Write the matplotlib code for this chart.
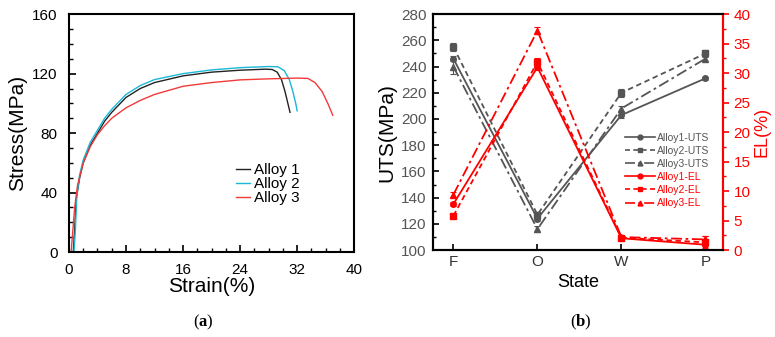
import matplotlib
matplotlib.use("Agg")
import matplotlib.pyplot as plt
from matplotlib.ticker import MultipleLocator
from matplotlib.lines import Line2D

plt.rcParams['font.family'] = ['Liberation Sans', 'DejaVu Sans']
plt.rcParams['mathtext.fontset'] = 'custom'
plt.rcParams['mathtext.rm'] = 'Liberation Serif'
plt.rcParams['mathtext.bf'] = 'Liberation Serif:bold'

# ---------------- Panel (a) data: stress-strain curves ----------------
strain_a1 = [0.6, 0.8, 1.0, 1.5, 2, 3, 4, 5, 6, 8, 10, 12, 16, 20, 24, 27.5, 28.5, 29.2, 29.8, 30.3, 30.7, 31.0]
stress_a1 = [0, 15, 35, 50, 60, 72, 80, 88, 94, 104, 110, 114, 118.5, 121, 122.3, 123, 122.8, 121, 116, 108, 100, 94]
strain_a2 = [0.7, 0.9, 1.1, 1.5, 2, 3, 4, 5, 6, 8, 10, 12, 16, 20, 24, 28, 29.3, 30.2, 30.9, 31.4, 31.8, 32.0]
stress_a2 = [0, 15, 38, 52, 62, 74, 82, 90, 96, 106, 112, 116, 120, 122.5, 124, 124.8, 124.6, 122, 116, 108, 100, 95]
strain_a3 = [0.3, 0.5, 0.8, 1.2, 2, 3, 4, 5, 6, 8, 10, 12, 16, 20, 24, 28, 32, 33.5, 34.5, 35.5, 36.3, 37.0]
stress_a3 = [0, 12, 30, 45, 60, 71, 79, 85, 90, 97, 102, 106, 111.5, 114, 115.8, 116.5, 117, 116.8, 114, 108, 100, 92]
labels_a = ['Alloy 1', 'Alloy 2', 'Alloy 3']

# ---------------- Panel (b) data ----------------
states = ['F', 'O', 'W', 'P']
uts_1 = [246, 124, 203, 231]
uts_2 = [255, 127, 220, 250]
uts_3 = [240, 116, 208, 246]
uts_err_1 = [2, 2, 2, 1]
uts_err_2 = [3, 2, 3, 3]
uts_err_3 = [6, 2, 2, 2]
el_1 = [7.8, 31.0, 2.0, 0.9]
el_2 = [5.8, 31.9, 2.1, 1.3]
el_3 = [9.4, 37.2, 2.2, 1.8]
el_err_1 = [0.4, 0.4, 0.3, 0.8]
el_err_2 = [0.3, 0.6, 0.3, 1.0]
el_err_3 = [0.4, 0.6, 0.3, 0.6]
labels_uts = ['Alloy1-UTS', 'Alloy2-UTS', 'Alloy3-UTS']
labels_el = ['Alloy1-EL', 'Alloy2-EL', 'Alloy3-EL']

fig = plt.figure(figsize=(7.75, 3.37), dpi=100)

# ---------------- Panel (a) ----------------
ax1 = fig.add_axes([0.089, 0.252, 0.368, 0.706])
cols_a = ['#222222', '#1ab8d8', '#f03a3a']
for s, t, c, l in zip([strain_a1, strain_a2, strain_a3], [stress_a1, stress_a2, stress_a3], cols_a, labels_a):
    ax1.plot(s, t, color=c, lw=1.0, label=l)
ax1.set_xlim(0, 40)
ax1.set_ylim(0, 160)
ax1.xaxis.set_major_locator(MultipleLocator(8))
ax1.xaxis.set_minor_locator(MultipleLocator(2))
ax1.yaxis.set_major_locator(MultipleLocator(40))
ax1.yaxis.set_minor_locator(MultipleLocator(10))
ax1.tick_params(which='both', direction='in', top=False, right=False, labelsize=11)
ax1.tick_params(which='major', length=5, width=1.2)
ax1.tick_params(which='minor', length=3, width=1.0)
ax1.tick_params(axis='x', which='major', pad=8)
ax1.tick_params(axis='y', which='major', pad=8)
for sp in ax1.spines.values():
    sp.set_linewidth(1.5)
ax1.set_xlabel('Strain(%)', fontsize=15, labelpad=0)
ax1.set_ylabel('Stress(MPa)', fontsize=15, labelpad=4)
ax1.legend(loc='upper left', bbox_to_anchor=(0.56, 0.405), frameon=False, fontsize=11,
           handlelength=0.9, handletextpad=0.25, labelspacing=0.0, borderpad=0)

# ---------------- Panel (b) ----------------
ax2 = fig.add_axes([0.559, 0.258, 0.374, 0.700])
ax3 = ax2.twinx()
xs = list(range(len(states)))
grey = '#555555'
red = '#ff0000'
styles = ['-', (0, (3, 2)), (0, (6, 2, 1.5, 2))]
markers = ['o', 's', '^']
for y, e, ls, m in zip([uts_1, uts_2, uts_3], [uts_err_1, uts_err_2, uts_err_3], styles, markers):
    ax2.errorbar(xs, y, yerr=e, color=grey, ls=ls, marker=m, ms=4, lw=1.3,
                 capsize=2, elinewidth=0.8, capthick=0.8)
for y, e, ls, m in zip([el_1, el_2, el_3], [el_err_1, el_err_2, el_err_3], styles, markers):
    ax3.errorbar(xs, y, yerr=e, color=red, ls=ls, marker=m, ms=4, lw=1.3,
                 capsize=2, elinewidth=0.8, capthick=0.8)
ax2.set_xlim(-0.24, 3.21)
ax2.set_ylim(100, 280)
ax3.set_ylim(0, 40)
ax2.set_xticks(xs)
ax2.set_xticklabels(states)
ax2.yaxis.set_major_locator(MultipleLocator(20))
ax2.yaxis.set_minor_locator(MultipleLocator(10))
ax3.yaxis.set_major_locator(MultipleLocator(5))
ax3.yaxis.set_minor_locator(MultipleLocator(2.5))
ax2.tick_params(axis='y', which='both', direction='in', labelsize=11, labelcolor='#555555')
ax2.tick_params(axis='x', which='both', direction='in', labelsize=11, labelcolor='#333333')
ax2.tick_params(which='major', length=4, width=1.2)
ax2.tick_params(which='minor', length=2.5, width=1.0)
ax2.tick_params(axis='y', which='major', pad=5)
ax3.tick_params(axis='y', which='both', direction='out', colors=red, labelsize=11)
ax3.tick_params(which='major', length=4, width=1.2)
ax3.tick_params(which='minor', length=2.5, width=1.0)
for sp in ax2.spines.values():
    sp.set_linewidth(1.5)
for name, sp in ax3.spines.items():
    sp.set_linewidth(1.5)
ax3.spines['right'].set_color(red)
ax2.set_xlabel('State', fontsize=13, labelpad=4)
ax2.set_ylabel('UTS(MPa)', fontsize=15, labelpad=3)
ax3.set_ylabel('EL(%)', fontsize=13, color=red, labelpad=2)

handles = []
for ls, m in zip(styles, markers):
    handles.append(Line2D([], [], color=grey, ls=ls, marker=m, ms=3.5, lw=1.2))
for ls, m in zip(styles, markers):
    handles.append(Line2D([], [], color=red, ls=ls, marker=m, ms=3.5, lw=1.2))
leg = ax3.legend(handles, labels_uts + labels_el, loc='upper left', bbox_to_anchor=(0.645, 0.52),
                 frameon=False, fontsize=7.5, handlelength=2.8, handletextpad=0.2,
                 labelspacing=0.3, borderpad=0)
for i, txt in enumerate(leg.get_texts()):
    txt.set_color(grey if i < 3 else red)

fig.text(0.262, 0.03, r'($\mathbf{a}$)', fontsize=12, ha='center', family='Liberation Serif')
fig.text(0.749, 0.03, r'($\mathbf{b}$)', fontsize=12, ha='center', family='Liberation Serif')

fig.savefig('out.png', dpi=100)
